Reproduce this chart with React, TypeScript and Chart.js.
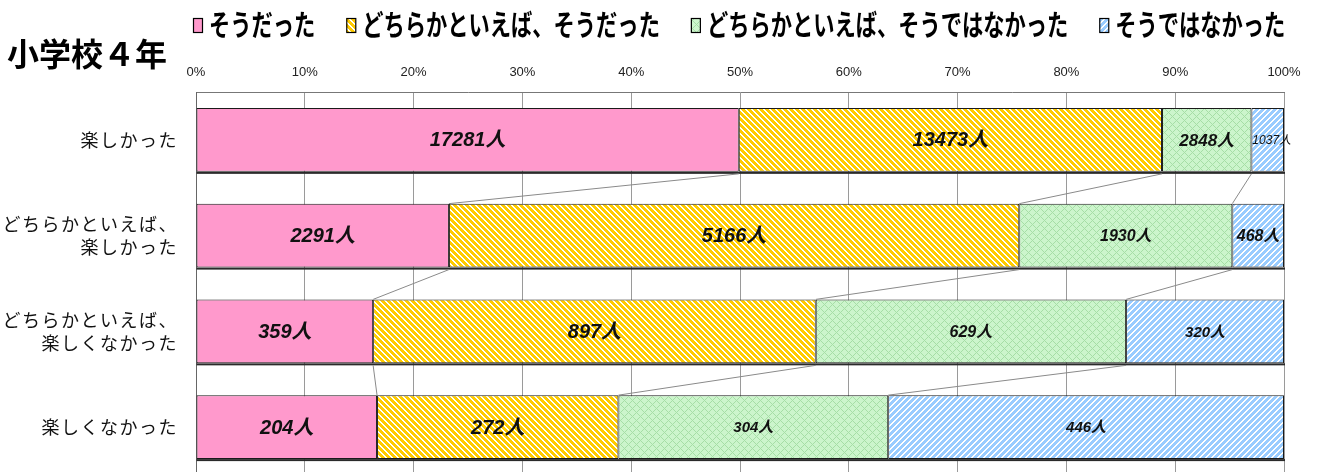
import React, { useEffect, useRef } from "react";
import { Chart, registerables } from "chart.js";
Chart.register(...registerables);

// ---- data ----
const titleText = "小学校４年";
const categories: string[][] = [
  ["楽しかった"],
  ["どちらかといえば、", "楽しかった"],
  ["どちらかといえば、", "楽しくなかった"],
  ["楽しくなかった"],
];
const seriesNames = [
  "そうだった",
  "どちらかといえば、そうだった",
  "どちらかといえば、そうではなかった",
  "そうではなかった",
];
const countsYes = [17281, 2291, 359, 204];
const countsRatherYes = [13473, 5166, 897, 272];
const countsRatherNo = [2848, 1930, 629, 304];
const countsNo = [1037, 468, 320, 446];
const xTickValues = [0, 10, 20, 30, 40, 50, 60, 70, 80, 90, 100];
const xTickLabels = ["0%", "10%", "20%", "30%", "40%", "50%", "60%", "70%", "80%", "90%", "100%"];

// ---- styles ----
const labelFontSizes = [
  [20, 20, 17, 12],
  [20, 20, 16, 16],
  [20, 20, 16, 15],
  [20, 20, 15, 15],
];

function makeTile(size: number, fn: (x: number, y: number) => string) {
  const c = document.createElement("canvas");
  c.width = size;
  c.height = size;
  const g = c.getContext("2d")!;
  for (let y = 0; y < size; y++) {
    for (let x = 0; x < size; x++) {
      g.fillStyle = fn(x, y);
      g.fillRect(x, y, 1, 1);
    }
  }
  return c;
}

export default function App() {
  const ref = useRef<HTMLCanvasElement>(null);

  useEffect(() => {
    const canvas = ref.current!;
    const ctx = canvas.getContext("2d")!;

    const pink = "#FF99CC";
    const yellowTile = makeTile(6, (x, y) => ((((x - y) % 6) + 6) % 6 < 2 ? "#FFFFFF" : "#FFCC00"));
    const greenTile = makeTile(8, (x, y) =>
      (x + y) % 8 === 0 || (((x - y) % 8) + 8) % 8 === 0 ? "#A6DEA6" : "#CCF5CC"
    );
    const blueTile = makeTile(6, (x, y) => ((x + y) % 6 < 2 ? "#FFFFFF" : "#99CCFF"));
    const fills: (string | CanvasPattern)[] = [
      pink,
      ctx.createPattern(yellowTile, "repeat")!,
      ctx.createPattern(greenTile, "repeat")!,
      ctx.createPattern(blueTile, "repeat")!,
    ];

    const allCounts = [countsYes, countsRatherYes, countsRatherNo, countsNo];
    const totals = categories.map((_, i) => allCounts.reduce((s, arr) => s + arr[i], 0));
    const shares = allCounts.map((arr) => arr.map((v, i) => (v / totals[i]) * 100));

    const decorPlugin = {
      id: "decor",
      afterDatasetsDraw(chart: any) {
        const c = chart.ctx as CanvasRenderingContext2D;
        const xs = chart.scales.x;
        const ys = chart.scales.y;
        const area = chart.chartArea;
        const metas = chart.data.datasets.map((_: any, k: number) => chart.getDatasetMeta(k));

        // shadow under each bar row
        c.save();
        c.fillStyle = "#2a2a2a";
        for (let i = 0; i < categories.length; i++) {
          const first = metas[0].data[i].getProps(["x", "y", "base", "height"], true);
          const last = metas[metas.length - 1].data[i].getProps(["x", "y", "base", "height"], true);
          const bottom = first.y + first.height / 2;
          c.fillRect(first.base, bottom, last.x - first.base + 1, 2);
        }
        c.restore();

        // series lines
        c.save();
        c.strokeStyle = "#8a8a8a";
        c.lineWidth = 1;
        for (let k = 0; k < metas.length - 1; k++) {
          for (let i = 0; i < categories.length - 1; i++) {
            const a = metas[k].data[i].getProps(["x", "y", "height"], true);
            const b = metas[k].data[i + 1].getProps(["x", "y", "height"], true);
            c.beginPath();
            c.moveTo(a.x, a.y + a.height / 2 + 2);
            c.lineTo(b.x, b.y - b.height / 2);
            c.stroke();
          }
        }
        c.restore();

        // value labels
        c.save();
        c.fillStyle = "#111";
        c.textAlign = "center";
        c.textBaseline = "middle";
        for (let k = 0; k < metas.length; k++) {
          for (let i = 0; i < categories.length; i++) {
            const el = metas[k].data[i].getProps(["x", "y", "base"], true);
            const size = labelFontSizes[i][k];
            const weight = size <= 12 ? "" : "bold ";
            c.font = `italic ${weight}${size}px "Liberation Sans", "Noto Sans CJK JP", sans-serif`;
            const cx = (el.x + el.base) / 2 + (size <= 12 ? 4 : 0);
            c.fillText(`${allCounts[k][i]}人`, cx, el.y + 1);
          }
        }
        c.restore();

        // x tick labels
        c.save();
        c.fillStyle = "#222";
        c.font = `13px "Liberation Sans", Arial, sans-serif`;
        c.textAlign = "center";
        c.textBaseline = "middle";
        xTickValues.forEach((v, idx) => {
          c.fillText(xTickLabels[idx], xs.getPixelForValue(v), area.top - 20);
        });
        c.restore();

        // category labels
        c.save();
        c.fillStyle = "#111";
        c.font = `18px "Noto Sans CJK JP", sans-serif`;
        (c as any).letterSpacing = "1.5px";
        c.textAlign = "right";
        c.textBaseline = "middle";
        const lh = 23;
        categories.forEach((lines, i) => {
          const cy = ys.getPixelForValue(i);
          lines.forEach((ln, j) => {
            const y = cy + (j - (lines.length - 1) / 2) * lh;
            c.fillText(ln, area.left - 18, y);
          });
        });
        c.restore();

        // title
        c.save();
        c.fillStyle = "#000";
        c.font = `bold 32px "Noto Sans CJK JP", sans-serif`;
        c.textAlign = "left";
        c.textBaseline = "middle";
        c.fillText(titleText, 7, 54);
        c.restore();

        // legend
        c.save();
        const s = 0.733;
        let x = 193;
        const ly = 25;
        c.font = `bold 29px "Noto Sans CJK JP", sans-serif`;
        c.textBaseline = "middle";
        c.textAlign = "left";
        seriesNames.forEach((name, k) => {
          c.fillStyle = fills[k] as any;
          c.fillRect(x, ly - 7, 9, 14);
          c.strokeStyle = "#000";
          c.lineWidth = 1.2;
          c.strokeRect(x + 0.5, ly - 7 + 0.5, 9, 14);
          const tx = x + 16;
          const w = c.measureText(name).width * s;
          c.save();
          c.translate(tx, ly);
          c.scale(s, 1);
          c.fillStyle = "#000";
          c.fillText(name, 0, 0);
          c.restore();
          x = tx + w + 31;
        });
        c.restore();
      },
    };

    const chart = new Chart(canvas, {
      type: "bar",
      data: {
        labels: categories.map((l) => l.join("")),
        datasets: seriesNames.map((name, k) => ({
          label: name,
          data: shares[k],
          backgroundColor: fills[k] as any,
          borderColor: "#1a1a1a",
          borderWidth: 1,
          borderSkipped: false,
          barPercentage: 0.668,
          categoryPercentage: 1,
        })),
      },
      options: {
        indexAxis: "y",
        responsive: false,
        animation: false,
        layout: { padding: { left: 196, top: 92, right: 33, bottom: 0 } },
        plugins: { legend: { display: false }, tooltip: { enabled: false }, title: { display: false } },
        scales: {
          x: {
            stacked: true,
            position: "top",
            min: 0,
            max: 100,
            ticks: { display: false, stepSize: 10 },
            grid: { color: "#9a9a9a", lineWidth: 1, drawTicks: false },
            border: { display: true, color: "#777" },
            afterFit: (sc: any) => {
              sc.height = 0;
            },
          },
          y: {
            stacked: true,
            ticks: { display: false },
            grid: { display: false, drawTicks: false },
            border: { display: true, color: "#666" },
            afterFit: (sc: any) => {
              sc.width = 0;
            },
          },
        },
      } as any,
      plugins: [decorPlugin],
    });

    return () => chart.destroy();
  }, []);

  return (
    <div
      style={{
        position: "fixed",
        left: 0,
        top: 0,
        width: 1317,
        height: 472,
        overflow: "hidden",
        background: "#fff",
      }}
    >
      <canvas ref={ref} width={1317} height={475} style={{ display: "block" }} />
    </div>
  );
}
